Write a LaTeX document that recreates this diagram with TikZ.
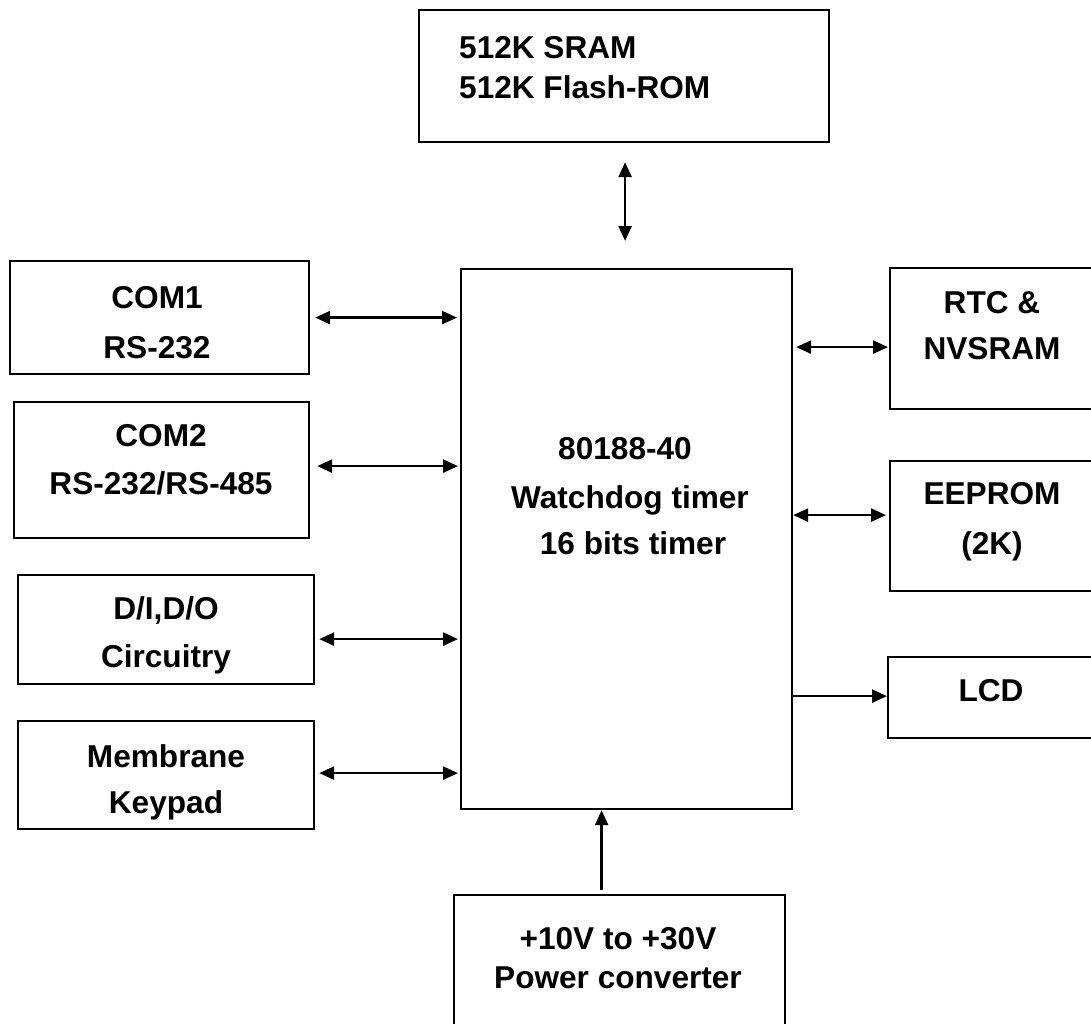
\documentclass[tikz,border=0pt]{standalone}
\usepackage{fontspec}
\setmainfont{Liberation Sans}
\usetikzlibrary{arrows.meta}
\begin{document}
\begin{tikzpicture}[x=1pt,y=-1pt,
  box/.style={draw,line width=2.2pt,rectangle,inner sep=0pt,anchor=north west},
  txt/.style={anchor=base,inner sep=0pt,font=\fontsize{31.6}{38}\selectfont\bfseries},
  ltxt/.style={anchor=base west,inner sep=0pt,font=\fontsize{31.6}{38}\selectfont\bfseries},
  biarrow/.style={line width=2.5pt,{Triangle[length=15pt,width=13pt]}-{Triangle[length=15pt,width=13pt]}},
  onearrow/.style={line width=2.5pt,-{Triangle[length=15pt,width=13pt]}}]
\useasboundingbox (0,0) rectangle (1091,1023);
\clip (0,0) rectangle (1091,1023);
\fill[white] (0,0) rectangle (1091,1023);
% boxes
\node[box,minimum width=410pt,minimum height=132pt] (mem) at (418,9) {};
\node[box,minimum width=331pt,minimum height=540pt] (cpu) at (460,268) {};
\node[box,minimum width=299pt,minimum height=113pt] (com1) at (9,260) {};
\node[box,minimum width=295pt,minimum height=136pt] (com2) at (13,401) {};
\node[box,minimum width=296pt,minimum height=109pt] (dio) at (17,574) {};
\node[box,minimum width=296pt,minimum height=108pt] (key) at (17,720) {};
\node[box,minimum width=215pt,minimum height=141pt] (rtc) at (889,267) {};
\node[box,minimum width=215pt,minimum height=130pt] (eep) at (889,460) {};
\node[box,minimum width=217pt,minimum height=81pt] (lcd) at (887,656) {};
\node[box,minimum width=331pt,minimum height=150pt] (pwr) at (453,894) {};
% texts
\node[ltxt] (mem1) at (459,58) {512K SRAM};
\node[ltxt] (mem2) at (459,98) {512K Flash-ROM};
\node[txt] (cpu1) at (625,459) {80188-40};
\node[txt] (cpu2) at (630,508) {Watchdog timer};
\node[txt] (cpu3) at (633,554) {16 bits timer};
\node[txt] (com1a) at (157,308) {COM1};
\node[txt] (com1b) at (157,358) {RS-232};
\node[txt] (com2a) at (161,446) {COM2};
\node[txt] (com2b) at (161,494) {RS-232/RS-485};
\node[txt] (dioa) at (166,619) {D/I,D/O};
\node[txt] (diob) at (166,667) {Circuitry};
\node[txt] (keya) at (166,767) {Membrane};
\node[txt] (keyb) at (166,813) {Keypad};
\node[txt] (rtca) at (992,313) {RTC \&};
\node[txt] (rtcb) at (992,359) {NVSRAM};
\node[txt] (eepa) at (992,504) {EEPROM};
\node[txt] (eepb) at (992,554) {(2K)};
\node[txt] (lcda) at (991,701) {LCD};
\node[txt] (pwra) at (618,949) {+10V to +30V};
\node[txt] (pwrb) at (618,988) {Power converter};
% connectors
\coordinate (cm) at ([xshift=-1.5pt]mem.south -| cpu.north);
\draw[biarrow,shorten <=19pt,shorten >=27pt] (cm) -- (cm |- cpu.north);
\coordinate (c1) at (com1.east);
\draw[biarrow,shorten <=5pt,shorten >=3pt] (c1) -- (c1 -| cpu.west);
\coordinate (c2) at ([yshift=4pt]com2.east);
\draw[biarrow,shorten <=7pt,shorten >=2pt] (c2) -- (c2 -| cpu.west);
\coordinate (c3) at ([yshift=-9.5pt]dio.east);
\draw[biarrow,shorten <=4pt,shorten >=2pt] (c3) -- (c3 -| cpu.west);
\coordinate (c4) at ([yshift=2pt]key.east);
\draw[biarrow,shorten <=4pt,shorten >=2pt] (c4) -- (c4 -| cpu.west);
\coordinate (c5) at ([yshift=-8.5pt]rtc.west);
\draw[biarrow,shorten <=1pt,shorten >=3pt] (c5) -- (c5 -| cpu.east);
\coordinate (c6) at ([yshift=11pt]eep.west);
\draw[biarrow,shorten <=3pt,shorten >=0pt] (c6) -- (c6 -| cpu.east);
\coordinate (c7) at ([yshift=1.5pt]lcd.west);
\draw[onearrow] (c7 -| cpu.east) -- (c7);
\coordinate (c8) at ([xshift=-18pt]pwr.north);
\draw[onearrow,shorten <=4pt] (c8) -- (c8 |- cpu.south);
\end{tikzpicture}
\end{document}
